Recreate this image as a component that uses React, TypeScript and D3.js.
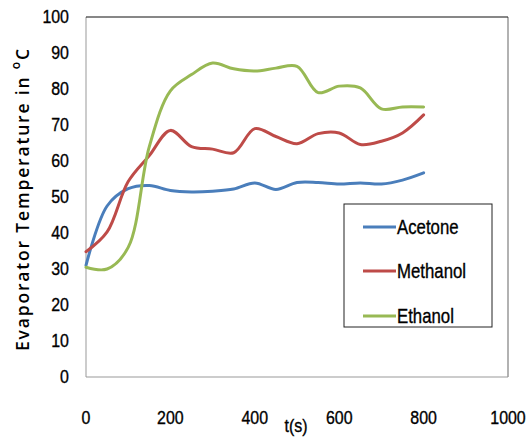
import React from "react";
import * as d3 from "d3";

const times = [0, 50, 100, 150, 200, 250, 300, 350, 400, 450, 500, 550, 600, 650, 700, 750, 800];
const acetone = [31, 47.5, 52.3, 53.2, 51.8, 51.4, 51.6, 52.2, 53.9, 52.1, 54, 54, 53.6, 53.9, 53.6, 54.7, 56.7];
const methanol = [34.8, 40.3, 54.3, 61.5, 68.5, 64, 63.3, 62.3, 69, 66.8, 64.8, 67.6, 67.8, 64.6, 65.5, 67.8, 72.8];
const ethanol = [30.5, 30, 36, 64, 79.5, 84, 87.2, 85.6, 85, 85.8, 86.3, 79, 80.8, 80.3, 74.5, 75, 75];
const seriesNames = ["Acetone", "Methanol", "Ethanol"];
const seriesColors = ["#4A7EBB", "#BE4B48", "#98B954"];
const xTicks = [0, 200, 400, 600, 800, 1000];
const yTicks = [0, 10, 20, 30, 40, 50, 60, 70, 80, 90, 100];

const W = 528, H = 437;
const L = 86, R = 508, T = 17, B = 377;
const tickFont = "'Liberation Sans', Arial, sans-serif";
const SX = 0.84;

function NText(props: { x: number; y: number; anchor: string; size: number; children: React.ReactNode }) {
  return (
    <g transform={`translate(${props.x},${props.y}) scale(${SX},1)`}>
      <text x={0} y={0} textAnchor={props.anchor as any} dominantBaseline="central"
        fontFamily={tickFont} fontSize={props.size} fill="#000" stroke="#000" strokeWidth={0.35}>
        {props.children}
      </text>
    </g>
  );
}

export default function App() {
  const x = d3.scaleLinear().domain([0, 1000]).range([L, R]);
  const y = d3.scaleLinear().domain([0, 100]).range([B, T]);
  const line = d3
    .line<[number, number]>()
    .x((d) => x(d[0]))
    .y((d) => y(d[1]))
    .curve(d3.curveCatmullRom.alpha(0.5));
  const allSeries = [acetone, methanol, ethanol];
  const legendRows = [227, 271, 316];
  return (
    <svg width={W} height={H} style={{ position: "absolute", left: 0, top: 0, background: "#fff" }}>
      <rect x={0} y={0} width={W} height={H} fill="#fff" />
      {/* plot frame */}
      <line x1={L} y1={T} x2={L} y2={B} stroke="#999" strokeWidth={1} />
      <line x1={L} y1={B} x2={R} y2={B} stroke="#999" strokeWidth={1} />
      <line x1={R} y1={T} x2={R} y2={B} stroke="#999" strokeWidth={1.5} />
      <line x1={L} y1={T} x2={R} y2={T} stroke="#111" strokeWidth={1.2} />
      {/* y ticks */}
      {yTicks.map((v) => (
        <NText key={v} x={69} y={y(v)} anchor="end" size={19}>{v}</NText>
      ))}
      {/* x ticks */}
      {xTicks.map((v) => (
        <NText key={v} x={x(v)} y={418} anchor="middle" size={19}>{v}</NText>
      ))}
      <NText x={296} y={426} anchor="middle" size={19}>t(s)</NText>
      {/* y label */}
      <text transform={`translate(22,200) rotate(-90)`} textAnchor="middle" dominantBaseline="central"
        fontFamily="'Open Sans', sans-serif" fontWeight={600} fontSize={17.5} fill="#000"
        textLength={302} lengthAdjust="spacing">
        Evaporator Temperature in <tspan fontSize={12} dy={-7}>o</tspan><tspan dy={7}>C</tspan>
      </text>
      {/* series */}
      {allSeries.map((s, i) => (
        <path key={i} d={line(times.map((t, j) => [t, s[j]]) as [number, number][]) || ""}
          fill="none" stroke={seriesColors[i]} strokeWidth={3} strokeLinejoin="round" strokeLinecap="round" />
      ))}
      {/* legend */}
      <rect x={344} y={204} width={148} height={123} fill="#fff" stroke="#222" strokeWidth={1} />
      {seriesNames.map((n, i) => (
        <g key={n}>
          <line x1={363} x2={396} y1={legendRows[i]} y2={legendRows[i]} stroke={seriesColors[i]} strokeWidth={3} />
          <NText x={397} y={legendRows[i]} anchor="start" size={20}>{n}</NText>
        </g>
      ))}
    </svg>
  );
}
